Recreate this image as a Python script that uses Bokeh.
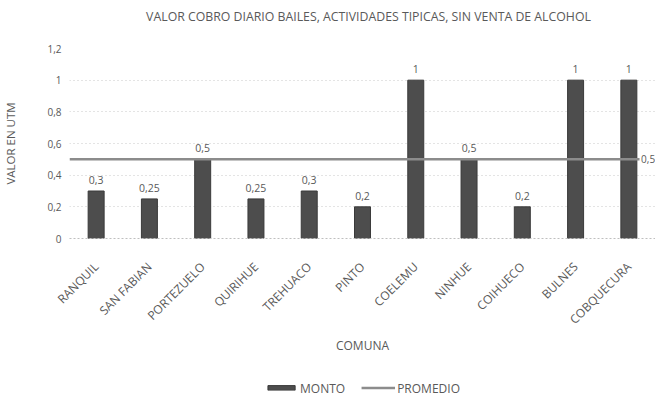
import math
from bokeh.plotting import figure
from bokeh.layouts import column
from bokeh.models import ColumnDataSource, FixedTicker, Legend, LegendItem, FactorRange, Range1d
from bokeh.core.properties import value
from bokeh.embed import file_html
from bokeh.resources import INLINE

title_text = "VALOR COBRO DIARIO BAILES, ACTIVIDADES TIPICAS, SIN VENTA DE ALCOHOL"
comunas = ["RANQUIL", "SAN FABIAN", "PORTEZUELO", "QUIRIHUE", "TREHUACO", "PINTO",
           "COELEMU", "NINHUE", "COIHUECO", "BULNES", "COBQUECURA"]
monto = [0.3, 0.25, 0.5, 0.25, 0.3, 0.2, 1, 0.5, 0.2, 1, 1]
monto_labels = ["0,3", "0,25", "0,5", "0,25", "0,3", "0,2", "1", "0,5", "0,2", "1", "1"]
promedio = [0.5, 0.5, 0.5, 0.5, 0.5, 0.5, 0.5, 0.5, 0.5, 0.5, 0.5]
promedio_label = "0,5"
y_ticks = [0, 0.2, 0.4, 0.6, 0.8, 1.0, 1.2]
y_tick_labels = ["0", "0,2", "0,4", "0,6", "0,8", "1", "1,2"]
series_names = ["MONTO", "PROMEDIO"]

FONT = "Open Sans"
TXT = "#595959"
BAR_FILL = "#4d4d4d"
BAR_LINE = "#3a3a3a"
LINE_COL = "#8c8c8c"

# ---- title strip ----
t = figure(width=655, height=32, x_range=Range1d(0, 1), y_range=Range1d(0, 1),
           output_backend="svg", toolbar_location=None, x_axis_type=None, y_axis_type=None,
           min_border_left=0, min_border_right=0, min_border_top=0, min_border_bottom=0)
t.outline_line_color = None
t.xgrid.grid_line_color = None
t.ygrid.grid_line_color = None
t.text(x=[0.5], y=[0.5], text=[title_text], text_align="center", text_baseline="middle",
       x_offset=6, text_font=value(FONT), text_font_size="12.3px", text_color=TXT)

# ---- main chart ----
p = figure(width=655, height=326, x_range=FactorRange(*comunas), y_range=Range1d(0, 1.2),
           output_backend="svg", toolbar_location=None,
           min_border_left=64, min_border_right=0, min_border_top=16, min_border_bottom=120)
p.outline_line_color = None

src = ColumnDataSource(dict(x=comunas, top=monto, lab=monto_labels))
bars = p.vbar(x="x", top="top", width=0.3, source=src, fill_color=BAR_FILL, line_color=BAR_LINE)

p.text(x="x", y="top", text="lab", source=src, text_align="center", text_baseline="bottom",
       y_offset=-7, text_font=value(FONT), text_font_size="10.5px", text_color=TXT)

line_x = [(c, 0.0) for c in comunas]
line_x[0] = (comunas[0], -0.5)
line_x[-1] = (comunas[-1], 0.2)
lsrc = ColumnDataSource(dict(x=line_x, y=promedio))
avg = p.line(x="x", y="y", source=lsrc, line_color=LINE_COL, line_width=2.5)
p.text(x=[(comunas[-1], 0.23)], y=[promedio[-1]], text=[promedio_label], text_align="left",
       text_baseline="middle", text_font=value(FONT), text_font_size="10px", text_color=TXT)

p.yaxis.ticker = FixedTicker(ticks=y_ticks)
p.yaxis.major_label_overrides = {t_: l for t_, l in zip(y_ticks, y_tick_labels)}
p.yaxis.axis_line_color = None
p.yaxis.major_tick_line_color = None
p.yaxis.minor_tick_line_color = None
p.yaxis.major_label_text_font = FONT
p.yaxis.major_label_text_font_size = "10px"
p.yaxis.major_label_text_color = TXT
p.yaxis.major_label_standoff = 2
p.yaxis.axis_label = "VALOR EN UTM"
p.yaxis.axis_label_text_font = FONT
p.yaxis.axis_label_text_font_size = "11.5px"
p.yaxis.axis_label_text_font_style = "normal"
p.yaxis.axis_label_text_color = TXT
p.yaxis.axis_label_standoff = 26

p.xaxis.axis_line_color = "#bfbfbf"
p.xaxis.axis_line_dash = "2 2"
p.xaxis.major_tick_line_color = None
p.xaxis.major_label_orientation = math.pi / 4
p.xaxis.major_label_text_font = FONT
p.xaxis.major_label_text_font_size = "12px"
p.xaxis.major_label_text_color = TXT
p.xaxis.major_label_standoff = 20
p.xaxis.axis_label = "COMUNA"
p.xaxis.axis_label_text_font = FONT
p.xaxis.axis_label_text_font_size = "12px"
p.xaxis.axis_label_text_font_style = "normal"
p.xaxis.axis_label_text_color = TXT
p.xaxis.axis_label_standoff = 0

p.xgrid.grid_line_color = None
p.ygrid.grid_line_color = "#c8c8c8"
p.ygrid.grid_line_dash = "1 3"

# ---- legend strip ----
lg = figure(width=655, height=40, x_range=Range1d(0, 1), y_range=Range1d(0, 1),
            output_backend="svg", toolbar_location=None, x_axis_type=None, y_axis_type=None,
            min_border_left=0, min_border_right=0, min_border_top=19, min_border_bottom=0)
lg.outline_line_color = None
lg.xgrid.grid_line_color = None
lg.ygrid.grid_line_color = None
# swatch renderers kept outside the visible range; only their legend entries show
lg_bar = lg.vbar(x=[5], top=[6], bottom=[5], width=0.3, fill_color=BAR_FILL, line_color=BAR_LINE)
lg_line = lg.line(x=[5, 6], y=[5, 5], line_color=LINE_COL, line_width=2.5)
legend = Legend(items=[LegendItem(label=series_names[0], renderers=[lg_bar]),
                       LegendItem(label=series_names[1], renderers=[lg_line])],
                orientation="horizontal", location="center",
                label_text_font=FONT, label_text_font_size="12px", label_text_color=TXT,
                glyph_width=34, glyph_height=6, spacing=16, border_line_color=None,
                background_fill_alpha=0, margin=0, padding=2, label_standoff=2)
lg.add_layout(legend, "center")

open("out.html", "w").write(file_html(column(t, p, lg, spacing=0), INLINE))
